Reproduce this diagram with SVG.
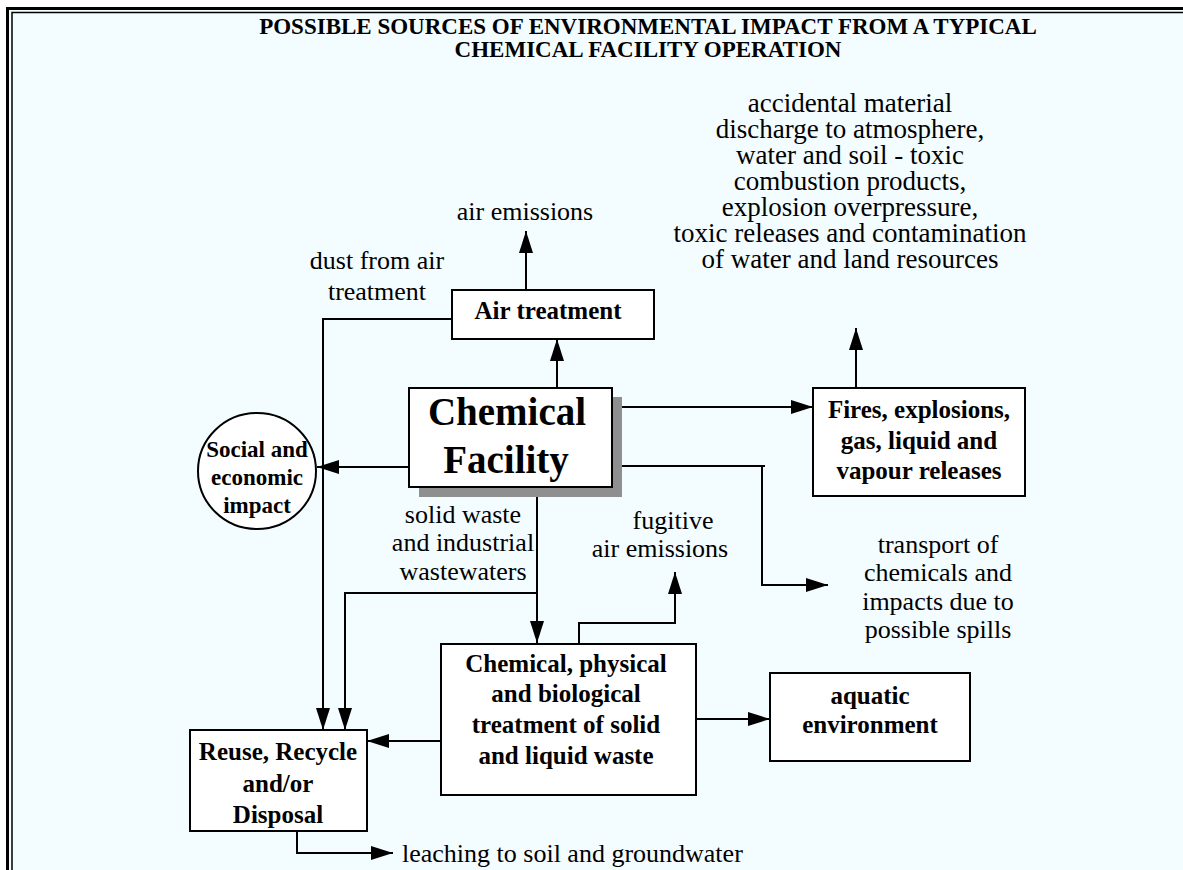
<svg xmlns="http://www.w3.org/2000/svg" width="1183" height="870" viewBox="0 0 1183 870">
  <defs>
    <marker id="arrow" markerUnits="userSpaceOnUse" markerWidth="22" markerHeight="14" refX="22" refY="7" orient="auto">
      <path d="M0,0 L22,7 L0,14 z" fill="#000"/>
    </marker>
    <style>
      .t { font-family: "Liberation Serif", "Times New Roman", serif; fill: #000; text-anchor: middle; }
      .title { font-size: 23px; font-weight: bold; }
      .lbl { font-size: 26px; }
      .lbl-lg { font-size: 27px; }
      .node-text { font-size: 25px; font-weight: bold; }
      .oval-text { font-size: 23px; font-weight: bold; }
      .big { font-size: 39px; font-weight: bold; }
      .box { fill: #fff; stroke: #000; stroke-width: 2; }
      .conn { fill: none; stroke: #000; stroke-width: 2; }
      .arr { marker-end: url(#arrow); }
    </style>
  </defs>

  <!-- page background and double frame -->
  <rect x="0" y="0" width="1183" height="870" fill="#fff"/>
  <rect x="9" y="10" width="1174" height="860" fill="#F3FCFF"/>
  <path d="M7.5 870 V8.5 H1183" fill="none" stroke="#000" stroke-width="3"/>
  <path d="M12 870 V12.5 H1183" fill="none" stroke="#000" stroke-width="1.5"/>

  <!-- title -->
  <text class="t title" x="648" y="34">POSSIBLE SOURCES OF ENVIRONMENTAL IMPACT FROM A TYPICAL</text>
  <text class="t title" x="648" y="57">CHEMICAL FACILITY OPERATION</text>

  <!-- connectors -->
  <g id="connectors">
    <path class="conn arr" d="M557 388 V339"/>
    <path class="conn arr" d="M526 290 V231"/>
    <path class="conn arr" d="M452 319 H323 V730"/>
    <path class="conn arr" d="M409 467 H317"/>
    <path class="conn arr" d="M612 407 H813"/>
    <path class="conn arr" d="M856 388 V328"/>
    <path class="conn" d="M612 466 H765"/>
    <path class="conn arr" d="M762 466 V585 H828"/>
    <path class="conn arr" d="M537 487 V643"/>
    <path class="conn arr" d="M537 593 H345 V730"/>
    <path class="conn arr" d="M579 644 V623 H675 V572"/>
    <path class="conn arr" d="M441 741 H367"/>
    <path class="conn arr" d="M696 719 H770"/>
    <path class="conn arr" d="M297 831 V853 H393"/>
  </g>

  <!-- free labels -->
  <g id="labels">
    <text class="t lbl" x="525" y="220">air emissions</text>
    <text class="t lbl" x="377" y="269">dust from air</text>
    <text class="t lbl" x="377" y="300">treatment</text>
    <text class="t lbl-lg" x="850" y="112">accidental material</text>
    <text class="t lbl-lg" x="850" y="138">discharge to atmosphere,</text>
    <text class="t lbl-lg" x="850" y="164">water and soil - toxic</text>
    <text class="t lbl-lg" x="850" y="190">combustion products,</text>
    <text class="t lbl-lg" x="850" y="216">explosion overpressure,</text>
    <text class="t lbl-lg" x="850" y="242">toxic releases and contamination</text>
    <text class="t lbl-lg" x="850" y="268">of water and land resources</text>
    <text class="t lbl" x="463" y="523">solid waste</text>
    <text class="t lbl" x="463" y="551">and industrial</text>
    <text class="t lbl" x="463" y="580">wastewaters</text>
    <text class="t lbl" x="673" y="529">fugitive</text>
    <text class="t lbl" x="660" y="557">air emissions</text>
    <text class="t lbl" x="938" y="553">transport of</text>
    <text class="t lbl" x="938" y="581">chemicals and</text>
    <text class="t lbl" x="938" y="610">impacts due to</text>
    <text class="t lbl" x="938" y="638">possible spills</text>
    <text class="t lbl" x="402" y="862" style="text-anchor:start">leaching to soil and groundwater</text>
  </g>

  <!-- nodes -->
  <g id="air-treatment">
    <rect class="box" x="452" y="290" width="202" height="49"/>
    <text class="t node-text" x="548" y="319">Air treatment</text>
  </g>

  <g id="chemical-facility">
    <rect x="419" y="397" width="203" height="100" fill="#8f8f8f"/>
    <rect class="box" x="409" y="388" width="203" height="99"/>
    <text class="t big" x="507" y="425">Chemical</text>
    <text class="t big" x="506" y="473">Facility</text>
  </g>

  <g id="social-economic">
    <ellipse cx="257" cy="471" rx="59" ry="58" fill="#fff" stroke="#000" stroke-width="2"/>
    <text class="t oval-text" x="257" y="457">Social and</text>
    <text class="t oval-text" x="257" y="485">economic</text>
    <text class="t oval-text" x="257" y="513">impact</text>
  </g>

  <g id="fires">
    <rect class="box" x="813" y="388" width="212" height="108"/>
    <text class="t node-text" x="919" y="418">Fires, explosions,</text>
    <text class="t node-text" x="919" y="449">gas, liquid and</text>
    <text class="t node-text" x="919" y="479">vapour releases</text>
  </g>

  <g id="treatment">
    <rect class="box" x="441" y="644" width="255" height="151"/>
    <text class="t node-text" x="566" y="672">Chemical, physical</text>
    <text class="t node-text" x="566" y="702">and biological</text>
    <text class="t node-text" x="566" y="733">treatment of solid</text>
    <text class="t node-text" x="566" y="764">and liquid waste</text>
  </g>

  <g id="aquatic">
    <rect class="box" x="770" y="673" width="200" height="88"/>
    <text class="t node-text" x="870" y="704">aquatic</text>
    <text class="t node-text" x="870" y="733">environment</text>
  </g>

  <g id="reuse">
    <rect class="box" x="190" y="730" width="177" height="101"/>
    <text class="t node-text" x="278" y="760">Reuse, Recycle</text>
    <text class="t node-text" x="278" y="792">and/or</text>
    <text class="t node-text" x="278" y="823">Disposal</text>
  </g>
</svg>
